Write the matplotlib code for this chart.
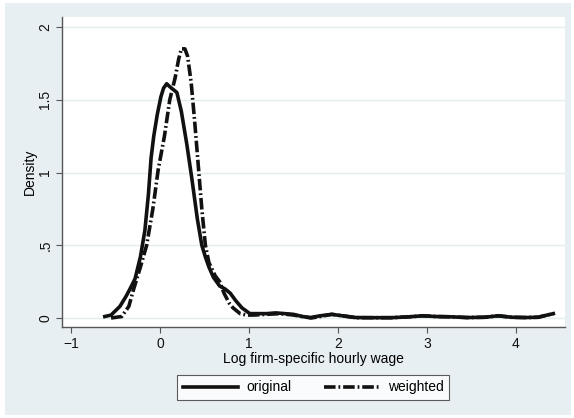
import matplotlib

matplotlib.use("Agg")
import matplotlib.pyplot as plt
from matplotlib.patches import Rectangle

plt.rcParams["font.family"] = ["Liberation Sans", "DejaVu Sans"]

# kernel density estimates of log firm-specific hourly wage
orig_x = [-0.62, -0.55, -0.45, -0.38, -0.32, -0.28, -0.22, -0.17, -0.13, -0.10,
          -0.07, -0.03, 0.01, 0.04, 0.075, 0.11, 0.19, 0.24, 0.30, 0.36,
          0.42, 0.47, 0.51, 0.55, 0.60, 0.67, 0.73, 0.79, 0.85, 0.92,
          1.01, 1.1, 1.2, 1.3, 1.4, 1.5, 1.6, 1.69, 1.8, 1.93,
          2.05, 2.2, 2.4, 2.6, 2.8, 2.95, 3.1, 3.27, 3.45, 3.65,
          3.8, 3.95, 4.1, 4.25, 4.35, 4.42]
orig_y = [0.01, 0.02, 0.08, 0.15, 0.22, 0.27, 0.42, 0.60, 0.85, 1.10,
          1.25, 1.40, 1.52, 1.58, 1.61, 1.59, 1.55, 1.42, 1.20, 0.95,
          0.68, 0.50, 0.42, 0.35, 0.28, 0.22, 0.20, 0.17, 0.12, 0.07,
          0.03, 0.03, 0.03, 0.035, 0.03, 0.025, 0.01, 0.003, 0.015, 0.025,
          0.015, 0.003, 0.002, 0.002, 0.008, 0.015, 0.01, 0.008, 0.003, 0.005,
          0.015, 0.005, 0.003, 0.005, 0.02, 0.03]

wtd_x = [-0.55, -0.43, -0.35, -0.30, -0.22, -0.15, -0.08, -0.02, 0.05, 0.11,
         0.17, 0.21, 0.24, 0.28, 0.31, 0.35, 0.39, 0.43, 0.47, 0.51,
         0.55, 0.62, 0.67, 0.72, 0.78, 0.82, 0.9, 0.97, 1.05, 1.2,
         1.35, 1.5, 1.6, 1.7, 1.8, 1.93, 2.05, 2.2, 2.4, 2.6,
         2.8, 2.95, 3.1, 3.27, 3.45, 3.65, 3.8, 3.95, 4.1, 4.25,
         4.35, 4.42]
wtd_y = [0.0, 0.01, 0.08, 0.19, 0.35, 0.50, 0.75, 1.02, 1.25, 1.50,
         1.65, 1.78, 1.85, 1.85, 1.80, 1.62, 1.35, 1.05, 0.75, 0.50,
         0.38, 0.29, 0.25, 0.17, 0.10, 0.07, 0.03, 0.02, 0.02, 0.025,
         0.03, 0.02, 0.01, 0.0, 0.01, 0.025, 0.015, 0.002, 0.002, 0.002,
         0.008, 0.015, 0.01, 0.008, 0.003, 0.005, 0.015, 0.005, 0.003, 0.005,
         0.02, 0.03]

x_ticks = [-1, 0, 1, 2, 3, 4]
y_ticks = [0, 0.5, 1, 1.5, 2]
y_labels = ["0", ".5", "1", "1.5", "2"]

W, H = 574, 418
fig = plt.figure(figsize=(W / 100, H / 100), dpi=100, facecolor="white")
fig.patches.append(Rectangle((5 / W, 3 / H), 566 / W, 412 / H, transform=fig.transFigure,
                             facecolor="#e8eff2", edgecolor="none", zorder=-10))

ax = fig.add_axes([62 / W, 1 - 327 / H, 503 / W, 310 / H])
ax.set_facecolor("white")

ax.plot(orig_x, orig_y, color="#111111", lw=2.6, solid_joinstyle="round", label="original")
ax.plot(wtd_x, wtd_y, color="#111111", lw=2.6, linestyle=(0, (3.2, 0.8, 0.5, 0.8)),
        label="weighted")

ax.set_xlim(-1.101, 4.551)
ax.set_ylim(-0.062, 2.069)
ax.set_xticks(x_ticks)
ax.set_yticks(y_ticks)
ax.set_yticklabels(y_labels, rotation=90, va="center")
ax.grid(axis="y", color="#e3ecef", lw=1.0)
ax.set_axisbelow(True)

for s in ["top", "right"]:
    ax.spines[s].set_visible(False)
for s in ["left", "bottom"]:
    ax.spines[s].set_color("#555555")
    ax.spines[s].set_linewidth(1.0)
ax.tick_params(direction="out", length=4, width=0.8, color="#555555",
               labelsize=10, labelcolor="#111111", pad=3)

ax.set_ylabel("Density", fontsize=10, labelpad=1)
ax.set_xlabel("Log firm-specific hourly wage", fontsize=10, labelpad=1)

leg = fig.legend(loc="center", bbox_to_anchor=(313 / W, 1 - 387.5 / H), ncol=2,
                 fontsize=10, frameon=True, fancybox=False, handlelength=4.0,
                 handletextpad=0.6, columnspacing=2.3, borderpad=0.4)
leg.get_frame().set_edgecolor("#333333")
leg.get_frame().set_linewidth(0.8)

fig.savefig("out.png", dpi=100)
